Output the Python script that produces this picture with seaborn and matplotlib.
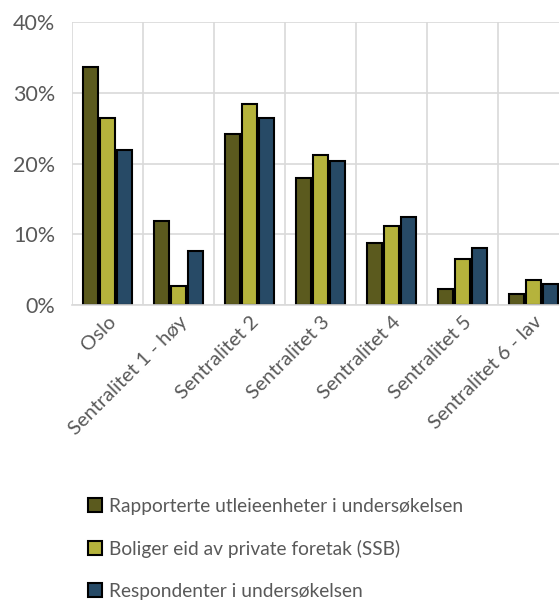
import numpy as np
import pandas as pd
import seaborn as sns
import matplotlib.pyplot as plt
from matplotlib.ticker import PercentFormatter, FixedLocator

# data (percent)
categories = ['Oslo', 'Sentralitet 1 - høy', 'Sentralitet 2', 'Sentralitet 3',
              'Sentralitet 4', 'Sentralitet 5', 'Sentralitet 6 - lav']
series_names = ['Rapporterte utleieenheter i undersøkelsen',
                'Boliger eid av private foretak (SSB)',
                'Respondenter i undersøkelsen']
utleieenheter = [33.7, 11.9, 24.2, 17.9, 8.7, 2.3, 1.5]
private_foretak = [26.5, 2.7, 28.4, 21.2, 11.1, 6.5, 3.5]
respondenter = [21.9, 7.6, 26.5, 20.3, 12.5, 8.1, 3.0]
colors = ['#5b5a1e', '#b5b33c', '#274a66']

df = pd.DataFrame({
    'Kategori': categories * 3,
    'Serie': [series_names[0]] * 7 + [series_names[1]] * 7 + [series_names[2]] * 7,
    'Andel': utleieenheter + private_foretak + respondenter,
})

sns.set_theme(style='white')
plt.rcParams['font.family'] = ['Lato', 'DejaVu Sans']

fig = plt.figure(figsize=(5.59, 6.05), dpi=100)
ax = fig.add_axes([72 / 559, 1 - 305 / 605, 497 / 559, 283 / 605])

sns.barplot(data=df, x='Kategori', y='Andel', hue='Serie', palette=colors,
            width=0.72, gap=0.1, edgecolor='black', linewidth=1.5,
            saturation=1, ax=ax)

ax.set_ylim(0, 40)
ax.set_xlim(-0.5, 6.5)
ax.yaxis.set_major_locator(FixedLocator([0, 10, 20, 30, 40]))
ax.yaxis.set_major_formatter(PercentFormatter(decimals=0))
ax.xaxis.set_minor_locator(FixedLocator(np.arange(-0.5, 7, 1)))
ax.grid(axis='y', which='major', color='#d9d9d9', linewidth=1.2)
ax.grid(axis='x', which='minor', color='#d9d9d9', linewidth=1.2)
ax.grid(axis='x', which='major', visible=False)
ax.set_axisbelow(True)
for s in ['top', 'right', 'left']:
    ax.spines[s].set_visible(False)
ax.spines['bottom'].set_color('#d9d9d9')
ax.spines['bottom'].set_linewidth(1.2)

ax.set_xlabel('')
ax.set_ylabel('')
ax.tick_params(axis='both', which='both', length=0, labelcolor='#595959')
ax.tick_params(axis='x', labelsize=14.5, pad=6)
ax.tick_params(axis='y', labelsize=15.5, pad=12)
plt.setp(ax.get_xticklabels(), rotation=45, ha='right', rotation_mode='anchor')

leg = ax.legend(loc='upper left', bbox_to_anchor=(8 / 497, -0.655), frameon=False,
                fontsize=13.8, labelspacing=1.3, handlelength=0.75,
                handleheight=0.75, handletextpad=0.35, borderaxespad=0)
for t in leg.get_texts():
    t.set_color('#595959')

plt.savefig('out.png', dpi=100)
plt.close()
